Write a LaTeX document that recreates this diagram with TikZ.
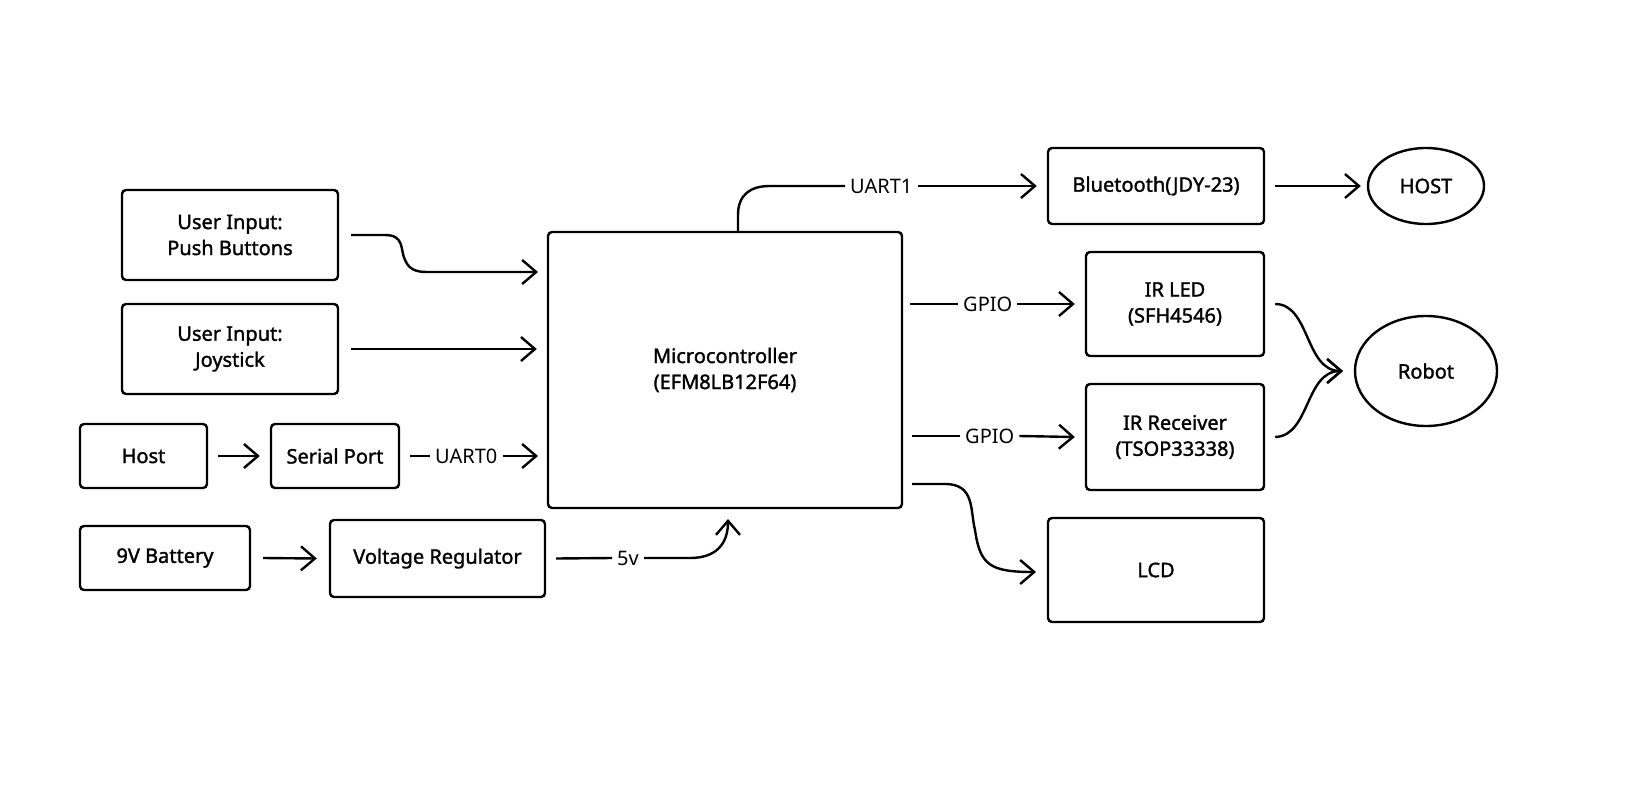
\documentclass[tikz,border=0pt]{standalone}
\usepackage{fontspec}
\setmainfont{Noto Sans}
\newfontfamily\medfont{Noto Sans}[FakeBold=1.5]
\usetikzlibrary{arrows.meta,shapes.geometric}
\begin{document}
\begin{tikzpicture}[x=0.5pt,y=-0.5pt,
  box/.style={draw,line width=1.2pt,rounded corners=2pt,align=center,font=\medfont\fontsize{10}{13}\selectfont,inner sep=0pt},
  ell/.style={draw,line width=1.2pt,ellipse,inner sep=0pt,font=\medfont\fontsize{10}{13}\selectfont},
  lab/.style={fill=white,font=\fontsize{10}{12}\selectfont,inner sep=2pt},
  ar/.style={line width=1.2pt,-{Straight Barb[length=7pt,width=12pt,line width=1.2pt]}},
  ln/.style={line width=1.2pt}]
\useasboundingbox (0,0) rectangle (1632,792);
\fill[white] (0,0) rectangle (1632,792);
\newcommand\bx[6]{\node[box,minimum width=#4*0.5pt,minimum height=#5*0.5pt] (#1) at (#2,#3) {#6};}
\bx{pb}{230}{235}{216}{90}{User Input:\\Push Buttons}
\bx{js}{230}{349}{216}{90}{User Input:\\Joystick}
\bx{host}{143.5}{456}{127}{64}{Host}
\bx{sp}{335}{456}{128}{64}{Serial Port}
\bx{bat}{165}{558}{170}{64}{9V Battery}
\bx{vr}{437.5}{558.5}{215}{77}{Voltage Regulator}
\bx{mcu}{725}{370}{354}{276}{Microcontroller\\(EFM8LB12F64)}
\bx{bt}{1156}{186}{216}{76}{Bluetooth(JDY-23)}
\bx{irl}{1175}{304}{178}{104}{IR LED\\(SFH4546)}
\bx{irr}{1175}{437}{178}{106}{IR Receiver\\(TSOP33338)}
\bx{lcd}{1156}{570}{216}{104}{LCD}
\node[ell,minimum width=58pt,minimum height=38pt] (H) at (1426,186) {HOST};
\node[ell,minimum width=71pt,minimum height=55pt] (rob) at (1426,371) {Robot};
% inputs
\coordinate (pbo) at ([xshift=6pt]pb.east);
\draw[ar] (pbo) -- (385,235) .. controls (405,235) and (400,250) .. (405,260) .. controls (410,272) and (420,272) .. (430,272) -- (538,272);
\draw[ar] ([xshift=6pt]js.east) -- ([xshift=-5pt]js.east -| mcu.west);
\draw[ar] ([xshift=5pt]host.east) -- ([xshift=-5pt]sp.west);
\draw[ln] ([xshift=5pt]sp.east) -- (430,456) node[lab,anchor=west] (u0) {UART0};
\draw[ar] (u0.east) -- (538,456);
\draw[ar] ([xshift=6pt]bat.east) -- ([xshift=-6pt]vr.west);
\draw[ln] ([xshift=5pt]vr.east) -- (612,558) node[lab,anchor=west] (v5) {5v};
\draw[ar] (v5.east) -- (690,558) .. controls (715,558) and (728,545) .. (728,519);
% outputs
\coordinate (mt) at (738,232);
\draw[ln] (mt) -- (738,215) .. controls (738,195) and (750,186) .. (770,186) -- (845,186) node[lab,anchor=west] (u1) {UART1};
\draw[ar] (u1.east) -- ([xshift=-5pt]bt.west);
\draw[ar] ([xshift=5pt]bt.east) -- ([xshift=-3pt]H.west);
\draw[ln] (910,304) -- (958,304) node[lab,anchor=west] (g1) {GPIO};
\draw[ar] (g1.east) -- ([xshift=-5pt]irl.west);
\draw[ln] (912,436) -- (960,436) node[lab,anchor=west] (g2) {GPIO};
\draw[ar] (g2.east) -- ([xshift=-5pt]irr.west);
\coordinate (rj) at (1343,371);
\draw[ar] ([xshift=5pt]irl.east) .. controls (1310,304) and (1305,371) .. (rj);
\draw[ar] ([xshift=5pt]irr.east) .. controls (1310,436) and (1305,371) .. (rj);
\draw[ar] (912,484) -- (945,484) .. controls (975,484) and (970,510) .. (975,530) .. controls (980,565) and (990,572) .. (1036,572);
\end{tikzpicture}
\end{document}
